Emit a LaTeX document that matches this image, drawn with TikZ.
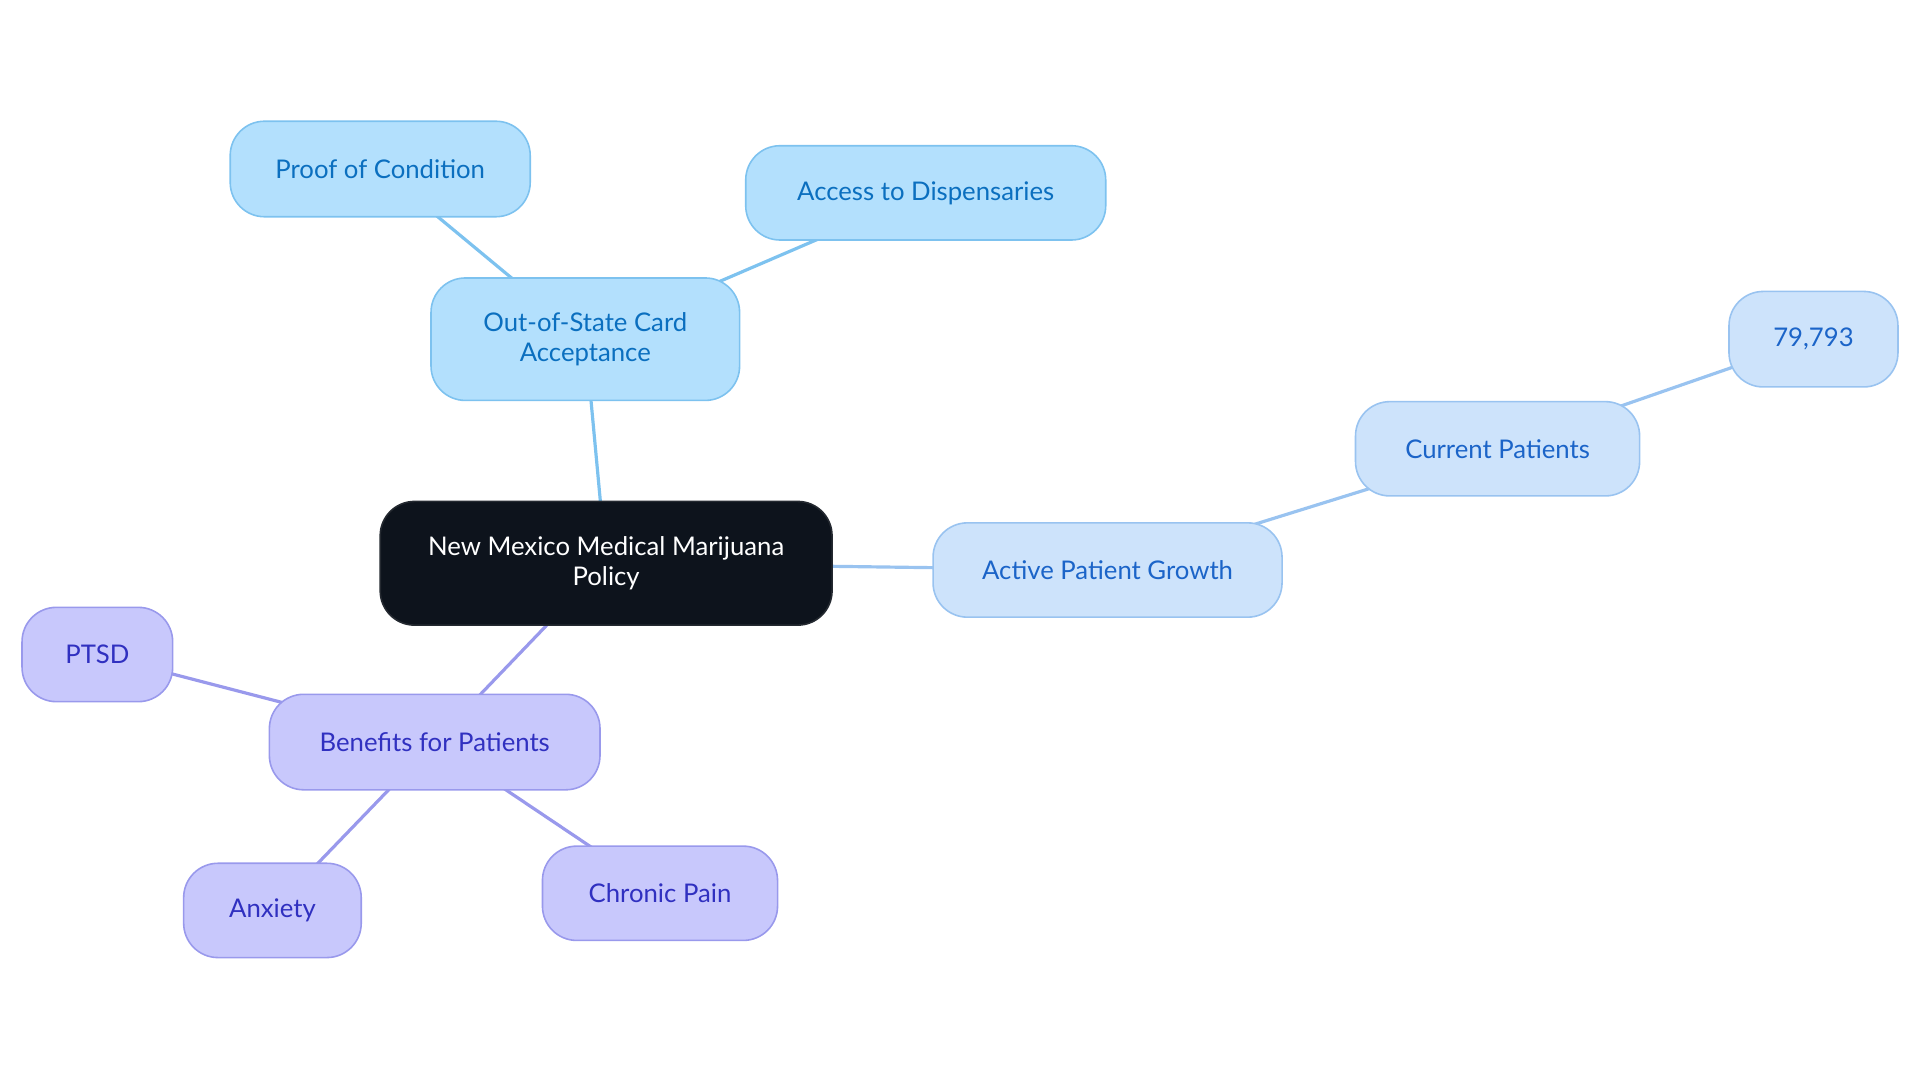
\documentclass[tikz,border=0pt]{standalone}
\usepackage{fontspec}
\setmainfont{Lato}
\usetikzlibrary{backgrounds}
\definecolor{rootfill}{HTML}{0D131C}
\definecolor{bfill}{HTML}{B3E0FD}
\definecolor{bdraw}{HTML}{7DC2EF}
\definecolor{btext}{HTML}{0B6FBF}
\definecolor{afill}{HTML}{CDE3FB}
\definecolor{adraw}{HTML}{99C3F0}
\definecolor{atext}{HTML}{1B64C8}
\definecolor{pfill}{HTML}{C8C8FC}
\definecolor{pdraw}{HTML}{9999EC}
\definecolor{ptext}{HTML}{3030C0}
\tikzset{
  box/.style={rectangle, rounded corners=28pt, line width=1.3pt, align=center,
    inner sep=0pt, font=\fontsize{21}{24}\selectfont},
  rootbox/.style={box, fill=rootfill, draw=rootfill!80!gray, text=white},
  bluebox/.style={box, fill=bfill, draw=bdraw, text=btext},
  actbox/.style={box, fill=afill, draw=adraw, text=atext},
  purbox/.style={box, fill=pfill, draw=pdraw, text=ptext},
  bedge/.style={draw=bdraw, line width=2.6pt},
  aedge/.style={draw=adraw, line width=2.6pt},
  pedge/.style={draw=pdraw, line width=2.6pt},
}
\begin{document}
\begin{tikzpicture}[x=1pt,y=-1pt]
\useasboundingbox (0,0) rectangle (1568,884.4);
\node[rootbox, minimum width=369pt, minimum height=101pt] (root) at (495,460) {New Mexico Medical Marijuana\\Policy};
\node[bluebox, minimum width=252pt, minimum height=100pt] (oos) at (478,277) {Out-of-State Card\\Acceptance};
\node[bluebox, minimum width=245pt, minimum height=78pt] (proof) at (310.5,138) {Proof of Condition};
\node[bluebox, minimum width=294pt, minimum height=77pt] (access) at (756,157.5) {Access to Dispensaries};
\node[actbox, minimum width=285pt, minimum height=77pt] (active) at (904.5,465.5) {Active Patient Growth};
\node[actbox, minimum width=232pt, minimum height=77pt] (current) at (1223,366.5) {Current Patients};
\node[actbox, minimum width=138pt, minimum height=78pt] (num) at (1481,277) {79,793};
\node[purbox, minimum width=270pt, minimum height=78pt] (benefits) at (355,606) {Benefits for Patients};
\node[purbox, minimum width=123pt, minimum height=77pt] (ptsd) at (79.5,534.5) {PTSD};
\node[purbox, minimum width=145pt, minimum height=77pt] (anxiety) at (222.5,743.5) {Anxiety};
\node[purbox, minimum width=192pt, minimum height=77pt] (chronic) at (539,729.5) {Chronic Pain};
\begin{scope}[on background layer]
\path[bedge] (root.center) -- (oos.center);
\path[bedge] (oos.center) -- (proof.center);
\path[bedge] (oos.center) -- (access.center);
\path[aedge] (root.center) -- (active.center);
\path[aedge] (active.center) -- (current.center);
\path[aedge] (current.center) -- (num.center);
\path[pedge] (root.center) -- (benefits.center);
\path[pedge] (benefits.center) -- (ptsd.center);
\path[pedge] (benefits.center) -- (anxiety.center);
\path[pedge] (benefits.center) -- (chronic.center);
\end{scope}
\end{tikzpicture}
\end{document}
